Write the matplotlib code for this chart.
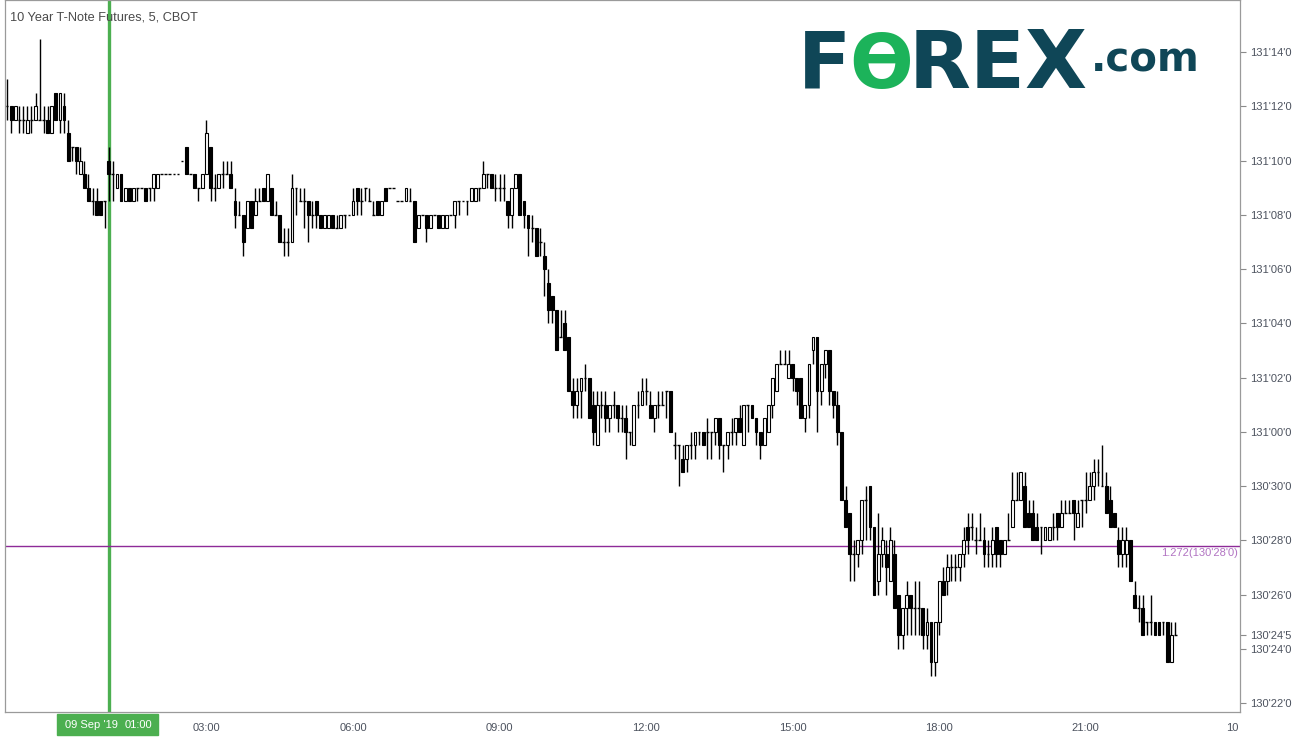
import numpy as np
import matplotlib.pyplot as plt
from matplotlib.patches import Rectangle

plt.rcParams['font.family'] = ['Liberation Sans', 'DejaVu Sans']

# prices in half-32nds above 130'22'0 (5 min bars)
o = [44,44,43,43,43,42,43,43,43,43, 43,42,45,43,44,42,41,41,39,39,
     38,37,37,37,37,40,39,38,39,37, 38,37,38,38,38,38,38,38,39,39,
     39,39,39,40,41,39,39,38,38,39, 41,38,38,39,39,39,37,36,36,35,
     37,36,37,38,37,38,36,36,34,34, 34,38,37,37,37,36,37,36,35,35,
     36,35,35,36,36,36,38,37,38,37, 36,37,36,38,38,38,37,37,37,37,
     37,35,36,36,35,36,36,35,35,36, 36,37,37,37,37,37,38,38,39,39,
     38,38,38,37,36,38,39,37,36,35, 35,34,33,31,30,29,27,28,27,23,
     22,23,24,24,22,19,22,22,21,22, 22,21,21,20,19,22,22,23,22,21,
     22,22,23,23,19,19,18,18,19,19, 20,20,20,20,20,21,19,19,20,20,
     21,19,22,22,21,20,19,20,22,23, 25,25,24,25,24,24,21,22,26,27,
     23,25,26,23,22,20,15,14,11,11, 12,15,16,13,9,11,11,9,11,8,
     5,7,8,7,7,7,5,6,3,6, 9,9,10,10,10,11,13,13,12,12,
     12,11,11,13,12,11,12,13,15,15, 16,14,14,13,13,12,12,13,14,13,
     14,14,15,13,15,15,15,16,17,16, 16,15,14,12,11,11,12,8,7,7,
     6,6,6,6,6,6,3,5]
h = [46,44,44,44,44,44,44,45,49,44, 44,44,45,45,45,43,41,41,41,40,
     39,38,38,37,37,41,40,39,39,38, 38,38,38,38,38,38,39,39,39,39,
     39,39,39,40,41,39,39,38,39,43, 41,39,39,40,40,40,38,37,36,37,
     37,38,38,38,39,38,37,36,35,35, 39,38,38,38,37,37,37,36,36,36,
     36,36,36,36,36,38,38,38,38,38, 37,37,37,38,38,38,37,37,38,38,
     37,36,36,36,36,36,36,36,36,36, 37,37,37,37,38,38,38,40,39,39,
     39,39,39,37,38,39,39,37,36,36, 35,35,34,32,30,29,29,29,27,24,
     24,24,25,24,23,23,23,23,22,23, 22,22,22,20,22,23,24,24,23,22,
     23,23,23,23,20,19,19,19,20,20, 20,20,21,20,21,21,19,20,21,21,
     22,22,22,22,21,20,21,22,24,25, 26,26,26,25,24,24,22,25,27,27,
     25,26,26,23,23,20,16,14,12,12, 15,16,16,13,14,13,12,13,12,8,
     7,9,8,9,9,7,7,6,6,9, 10,11,11,11,11,13,14,14,13,14,
     13,12,13,13,12,12,14,17,17,17, 17,15,15,14,13,13,13,14,14,15,
     15,15,15,15,15,17,17,18,18,19, 17,16,14,13,13,13,12,9,8,8,
     6,8,6,6,6,6,6,6]
l = [43,42,43,42,42,42,42,43,43,42, 42,42,43,42,42,40,40,39,39,38,
     37,36,36,36,35,37,37,38,37,37, 37,37,37,38,37,37,37,38,39,39,
     39,39,39,40,39,39,38,37,38,39, 37,37,38,38,39,38,35,36,33,35,
     35,36,37,37,37,36,36,34,33,33, 34,36,37,35,34,35,35,35,35,35,
     35,35,35,35,36,36,36,36,37,37, 36,36,36,37,38,38,37,37,37,37,
     34,35,36,34,35,36,35,35,35,36, 35,36,37,36,37,37,37,38,38,38,
     37,37,37,35,35,38,36,35,33,34, 33,33,30,28,28,26,27,26,23,21,
     21,21,23,21,19,19,21,20,20,21, 20,20,18,19,19,21,22,22,21,20,
     21,22,21,20,18,16,17,17,18,18, 19,19,18,18,19,18,17,18,19,19,
     20,19,20,21,19,18,19,20,21,23, 25,25,24,23,22,21,20,21,25,20,
     22,24,22,21,19,15,13,9,9,10, 11,12,12,8,8,10,8,9,7,4,
     4,5,5,5,5,4,4,2,2,5, 8,8,9,9,9,10,11,12,11,12,
     10,10,10,10,10,11,12,13,15,15, 13,13,12,12,11,12,12,12,12,13,
     14,14,12,13,13,14,15,15,16,16, 14,13,13,10,10,10,9,7,6,5,
     5,5,5,5,5,3,3,5]
c = [44,43,44,43,43,43,43,44,43,43, 42,44,43,45,43,40,41,40,40,38,
     37,37,36,36,37,39,39,39,37,38, 37,38,38,38,37,38,39,39,39,39,
     39,39,39,40,39,39,38,38,39,42, 38,38,39,39,39,38,36,36,34,37,
     35,37,37,37,39,36,36,34,34,34, 38,38,37,37,36,36,36,35,36,36,
     35,35,36,36,36,37,37,37,38,37, 36,36,37,37,38,38,37,37,38,37,
     34,36,36,35,36,36,35,36,36,36, 37,37,37,37,38,38,38,39,39,38,
     38,38,38,36,38,39,36,36,35,35, 33,34,32,29,29,26,27,26,23,22,
     23,24,24,21,20,22,22,21,22,22, 21,21,20,20,22,22,23,23,21,22,
     22,22,23,20,19,19,17,19,19,20, 20,19,20,20,21,19,19,20,20,21,
     20,22,22,21,20,19,21,22,24,25, 25,25,25,24,23,21,22,25,27,23,
     25,26,23,22,20,15,13,11,11,12, 15,15,13,8,11,12,10,12,7,5,
     7,8,7,7,7,5,6,3,6,9, 8,10,10,10,11,12,12,13,12,12,
     11,11,12,11,11,12,12,15,15,17, 13,13,12,12,13,13,13,13,13,14,
     14,14,14,14,15,15,16,17,17,16, 14,13,13,11,12,12,9,7,7,5,
     6,6,5,5,6,3,5,5]

time_labels = ['03:00', '06:00', '09:00', '12:00', '15:00', '18:00', '21:00', '10']
time_idx = [49, 85, 121, 157, 193, 229, 265, 301]
price_ticks = [0, 4, 5, 8, 12, 16, 20, 24, 28, 32, 36, 40, 44, 48]
fib_level = 11.6
fib_text = "1.272(130'28'0)"
marker_idx = 25
title = '10 Year T-Note Futures, 5, CBOT'


def fmt_price(t):
    halves = 44 + int(t)
    handle = 130 + halves // 64
    rem = halves % 64
    return "%d'%02d'%d" % (handle, rem // 2, 5 if rem % 2 else 0)


fig = plt.figure(figsize=(13.01, 7.48), dpi=100)
ax = fig.add_axes([5 / 1301, 36 / 748, 1235 / 1301, 712 / 748])

# candles
o, h, l, c = map(np.array, (o, h, l, c))
hi = np.maximum(h, np.maximum(o, c))
lo = np.minimum(l, np.minimum(o, c))
bw = 0.7
ax.vlines(np.arange(len(o)), lo, hi, color='black', lw=1, zorder=2)
for i in range(len(o)):
    if o[i] == c[i]:
        ax.hlines(o[i], i - bw / 2, i + bw / 2, color='black', lw=1, zorder=3)
    else:
        fc = 'white' if c[i] > o[i] else 'black'
        ax.add_patch(Rectangle((i - bw / 2, min(o[i], c[i])), bw, abs(c[i] - o[i]),
                               facecolor=fc, edgecolor='black', lw=0.8, zorder=3))

ax.axvline(marker_idx, color='#4caf50', lw=2.4, zorder=1)
ax.axhline(fib_level, color='#8e2a98', lw=1, zorder=1)
ax.text(302.3, 11.05, fib_text, ha='right', va='center', color='#b173c2', fontsize=8)

ax.set_xlim(-0.5, 302.9)
ax.set_ylim(-0.66, 51.84)

ax.set_xticks(time_idx)
ax.set_xticklabels(time_labels)
ax.yaxis.tick_right()
ax.set_yticks(price_ticks)
ax.set_yticklabels([fmt_price(t) for t in price_ticks])
ax.tick_params(axis='x', length=0, pad=8, labelsize=8, labelcolor='#4c525e')
ax.tick_params(axis='y', length=4, width=0.8, color='#8a8a8a', pad=3,
               labelsize=8, labelcolor='#4c525e')
for s in ax.spines.values():
    s.set_color('#9a9a9a')
    s.set_linewidth(0.9)

# date label on the time axis
fig.patches.append(Rectangle((57 / 1301, 1 - 735 / 748), 101 / 1301, 21 / 748,
                             transform=fig.transFigure, color='#4caf50'))
fig.text(91 / 1301, 1 - 724.5 / 748, "09 Sep '19", color='white', fontsize=8,
         ha='center', va='center')
fig.text(138 / 1301, 1 - 724.5 / 748, '01:00', color='white', fontsize=8,
         ha='center', va='center')

fig.text(10 / 1301, 1 - 18 / 748, title, fontsize=9.2, color='#4a4a4a', va='center')

# logo
navy = '#0f4657'
green = '#1cb35a'
base = 1 - 88 / 748
fig.text(798 / 1301, base, 'F', fontsize=56, fontweight='bold', color=navy,
         family='DejaVu Sans', va='baseline')
fig.text(849 / 1301, base, '\u04e8', fontsize=54, fontweight='bold', color=green,
         family='DejaVu Sans', va='baseline')
fig.text(909 / 1301, base, 'REX', fontsize=58, fontweight='bold', color=navy,
         family='DejaVu Sans', va='baseline')
fig.text(1091 / 1301, 1 - 72 / 748, '.com', fontsize=29, fontweight='bold', color=navy,
         family='DejaVu Sans', va='baseline')

fig.savefig('out.png', dpi=100)
